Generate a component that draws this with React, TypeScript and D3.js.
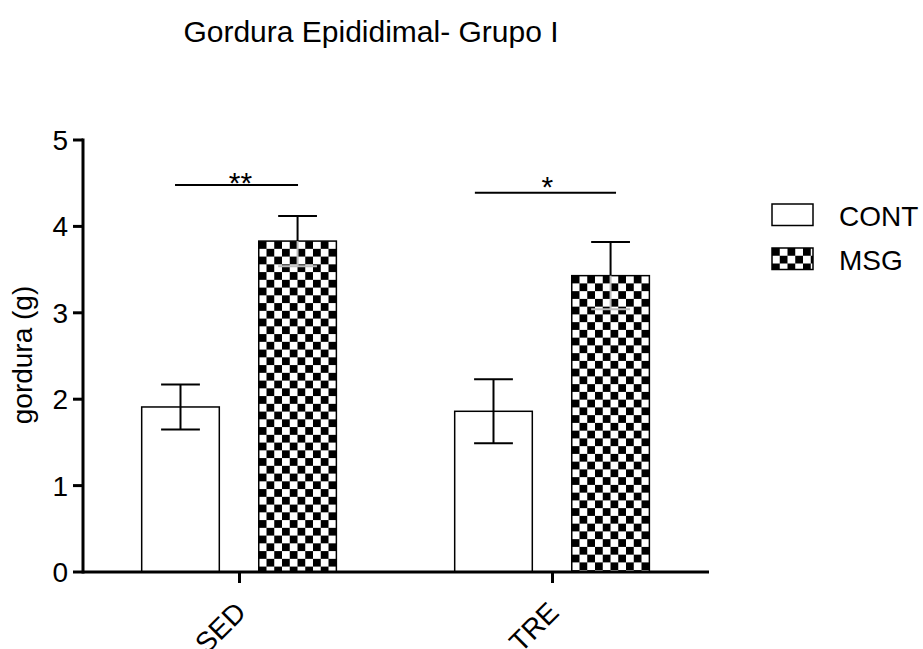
import React from "react";
import * as d3 from "d3";

// Epididymal fat, group I
const groups = ["SED", "TRE"];
const series = ["CONT", "MSG"];
const means = [
  [1.91, 3.83], // SED: CONT, MSG
  [1.86, 3.43], // TRE: CONT, MSG
];
const sems = [
  [0.26, 0.29],
  [0.37, 0.39],
];
const yTicks = [0, 1, 2, 3, 4, 5];
const bracketLabels = ["**", "*"];
const bracketLevels = [4.48, 4.39];
const bracketSpans = [
  [0.294, 0.687],
  [0.252, 0.703],
];

const W = 923;
const H = 649;
const FONT = "'Liberation Sans', Arial, Helvetica, sans-serif";
const CELL = 7.75;

export default function App() {
  const x0 = d3.scaleBand<string>().domain(groups).range([83, 709]).paddingInner(0).paddingOuter(0);
  const bw = x0.bandwidth();
  const x1 = d3
    .scaleBand<string>()
    .domain(series)
    .range([bw * 0.1875, bw * 0.8095])
    .paddingInner(0.337)
    .paddingOuter(0);
  const y = d3.scaleLinear().domain([0, 5]).range([572, 140]);
  const barW = x1.bandwidth();

  const bars: any[] = [];
  groups.forEach((g, gi) => {
    series.forEach((s, si) => {
      const bx = (x0(g) as number) + (x1(s) as number);
      bars.push({ g, gi, s, si, x: bx, m: means[gi][si], e: sems[gi][si] });
    });
  });

  return (
    <svg width={W} height={H} style={{ display: "block", position: "absolute", left: 0, top: 0 }}>
      <defs>
        {bars
          .filter((b) => b.si === 1)
          .map((b) => (
            <pattern
              key={b.g}
              id={`chk-${b.g}`}
              patternUnits="userSpaceOnUse"
              x={b.x}
              y={y(b.m)}
              width={CELL * 2}
              height={CELL * 2}
            >
              <rect width={CELL * 2} height={CELL * 2} fill="#fff" />
              <rect width={CELL} height={CELL} fill="#000" />
              <rect x={CELL} y={CELL} width={CELL} height={CELL} fill="#000" />
            </pattern>
          ))}
        <pattern id="chk-legend" patternUnits="userSpaceOnUse" x={772} y={248} width={CELL * 2} height={CELL * 2}>
          <rect width={CELL * 2} height={CELL * 2} fill="#fff" />
          <rect width={CELL} height={CELL} fill="#000" />
          <rect x={CELL} y={CELL} width={CELL} height={CELL} fill="#000" />
        </pattern>
      </defs>
      <rect width={W} height={H} fill="#fff" />

      <text x={371} y={42} textAnchor="middle" fontFamily={FONT} fontSize={30} fill="#000">
        Gordura Epididimal- Grupo I
      </text>

      {/* bars with error bars */}
      {bars.map((b) => {
        const cx = b.x + barW / 2;
        const top = y(b.m);
        const hi = y(b.m + b.e);
        const lo = y(b.m - b.e);
        const cap = barW / 4;
        return (
          <g key={`${b.g}-${b.s}`}>
            <line x1={cx} x2={cx} y1={top} y2={hi} stroke="#000" strokeWidth={2} />
            <line x1={cx - cap} x2={cx + cap} y1={hi} y2={hi} stroke="#000" strokeWidth={2} />
            <rect
              x={b.x}
              y={top}
              width={barW}
              height={y(0) - top}
              fill={b.si === 1 ? `url(#chk-${b.g})` : "#fff"}
              stroke="#000"
              strokeWidth={1.5}
            />
            <line
              x1={cx}
              x2={cx}
              y1={top}
              y2={lo}
              stroke={b.si === 1 ? "#bbb" : "#000"}
              strokeWidth={2}
            />
            <line
              x1={cx - cap}
              x2={cx + cap}
              y1={lo}
              y2={lo}
              stroke={b.si === 1 ? "#bbb" : "#000"}
              strokeWidth={2}
            />
          </g>
        );
      })}

      {/* significance brackets */}
      {groups.map((g, gi) => {
        const gx = x0(g) as number;
        const xa = gx + bw * bracketSpans[gi][0];
        const xb = gx + bw * bracketSpans[gi][1];
        const yl = y(bracketLevels[gi]);
        return (
          <g key={`br-${g}`}>
            <line x1={xa} x2={xb} y1={yl} y2={yl} stroke="#000" strokeWidth={2} />
            <text
              x={(xa + xb) / 2 + (gi === 0 ? 4 : 2)}
              y={yl + (gi === 0 ? 8 : 4)}
              textAnchor="middle"
              fontFamily={FONT}
              fontSize={30}
              fill="#000"
            >
              {bracketLabels[gi]}
            </text>
          </g>
        );
      })}

      {/* y axis */}
      <line x1={83} x2={83} y1={y(5) - 1.5} y2={y(0) + 1.5} stroke="#000" strokeWidth={3} />
      {yTicks.map((t) => (
        <g key={`yt-${t}`}>
          <line x1={73} x2={83} y1={y(t)} y2={y(t)} stroke="#000" strokeWidth={3} />
          <text
            x={68}
            y={y(t)}
            dy="0.36em"
            textAnchor="end"
            fontFamily={FONT}
            fontSize={28}
            fill="#000"
          >
            {t}
          </text>
        </g>
      ))}
      <text
        transform={`translate(32,355) rotate(-90)`}
        textAnchor="middle"
        fontFamily={FONT}
        fontSize={28}
        fill="#000"
      >
        gordura (g)
      </text>

      {/* x axis */}
      <line x1={83} x2={709} y1={y(0)} y2={y(0)} stroke="#000" strokeWidth={3} />
      {groups.map((g) => {
        const tx = (x0(g) as number) + bw / 2;
        return (
          <g key={`xt-${g}`}>
            <line x1={tx} x2={tx} y1={y(0)} y2={y(0) + 11} stroke="#000" strokeWidth={3} />
            <text
              transform={`translate(${tx + 8},614) rotate(-45)`}
              textAnchor="end"
              fontFamily={FONT}
              fontSize={28}
              fill="#000"
            >
              {g}
            </text>
          </g>
        );
      })}

      {/* legend */}
      {series.map((s, si) => {
        const ly = 204 + si * 44;
        return (
          <g key={`lg-${s}`}>
            <rect
              x={772}
              y={ly}
              width={41}
              height={21.5}
              fill={si === 1 ? "url(#chk-legend)" : "#fff"}
              stroke="#000"
              strokeWidth={1.5}
            />
            <text x={839} y={ly + 21.5} fontFamily={FONT} fontSize={28} fill="#000">
              {s}
            </text>
          </g>
        );
      })}
    </svg>
  );
}
